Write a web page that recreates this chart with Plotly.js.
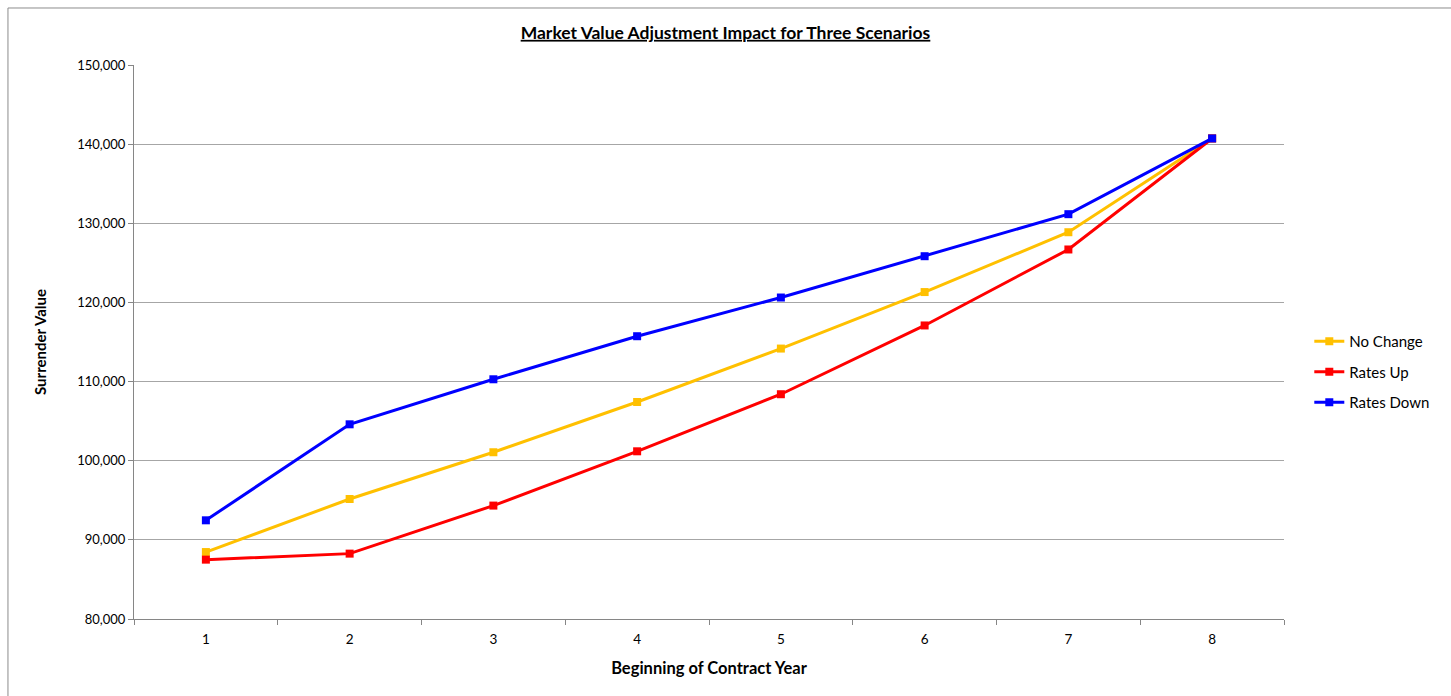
<!DOCTYPE html>
<html>
<head>
<meta charset="utf-8">
<script src="https://cdn.plot.ly/plotly-3.0.1.min.js"></script>
<style>
html,body{margin:0;padding:0;background:#fff;}
#chart{width:1451px;height:696px;}
</style>
</head>
<body>
<div id="chart"></div>
<script>
const years = ["1","2","3","4","5","6","7","8"];
const noChange = [88460, 95160, 101070, 107420, 114170, 121310, 128870, 140720];
const ratesUp = [87500, 88260, 94330, 101190, 108400, 117090, 126690, 140720];
const ratesDown = [92470, 104600, 110290, 115730, 120620, 125840, 131150, 140720];
const seriesNames = ["No Change", "Rates Up", "Rates Down"];
const seriesColors = ["#FFC000", "#FF0000", "#0000FF"];
const yTicks = [80000, 90000, 100000, 110000, 120000, 130000, 140000, 150000];

const FONT = "Lato, 'Open Sans', sans-serif";
const data = [noChange, ratesUp, ratesDown].map((vals, i) => ({
  type: "scatter",
  mode: "lines+markers",
  x: years,
  y: vals,
  name: seriesNames[i],
  legendgroup: "g" + i,
  line: {color: seriesColors[i], width: 3},
  marker: {color: seriesColors[i], symbol: "square", size: 8}
}));

const layout = {
  width: 1451, height: 696,
  margin: {l: 134, r: 167, t: 65, b: 77},
  paper_bgcolor: "#fff", plot_bgcolor: "#fff",
  font: {family: FONT, size: 13, color: "#000"},
  title: {
    text: "<b>Market Value Adjustment Impact for Three Scenarios</b>",
    font: {family: FONT, size: 17.5, color: "#000", lineposition: "under"},
    x: 0.5, xref: "container", xanchor: "center", y: 0.953, yanchor: "middle"
  },
  xaxis: {
    type: "category",
    range: [-0.5, 7.5],
    tickson: "boundaries",
    ticks: "outside", ticklen: 5, tickcolor: "#868686",
    ticklabelstandoff: 8,
    showgrid: false, zeroline: false,
    showline: true, linecolor: "#868686", linewidth: 1,
    tickfont: {family: FONT, size: 13.5, color: "#000"},
    title: {text: "<b>Beginning of Contract Year</b>", font: {family: FONT, size: 16.5, color: "#000"}, standoff: 16},
    fixedrange: true
  },
  yaxis: {
    range: [80000, 150000],
    tickvals: yTicks,
    tickformat: ",d",
    ticks: "outside", ticklen: 5, tickcolor: "#868686",
    showgrid: true, gridcolor: "#A6A6A6", gridwidth: 1,
    zeroline: false,
    showline: true, linecolor: "#868686", linewidth: 1,
    tickfont: {family: FONT, size: 13, color: "#000"},
    title: {text: "<b>Surrender Value</b>", font: {family: FONT, size: 15, color: "#000"}, standoff: 26},
    fixedrange: true
  },
  legend: {
    x: 1.022, xanchor: "left", y: 0.446, yanchor: "middle",
    font: {family: FONT, size: 15, color: "#000"},
    traceorder: "grouped",
    tracegroupgap: 8, itemwidth: 30,
    bgcolor: "rgba(0,0,0,0)"
  },
  shapes: [{
    type: "rect", xref: "paper", yref: "paper",
    x0: -0.1096, x1: 1.3, y0: -0.3, y1: 1.1029,
    line: {color: "#8C8C8C", width: 1}, fillcolor: "rgba(0,0,0,0)", layer: "below"
  }],
  showlegend: true
};

Plotly.newPlot("chart", data, layout, {displayModeBar: false, staticPlot: true});
</script>
</body>
</html>
